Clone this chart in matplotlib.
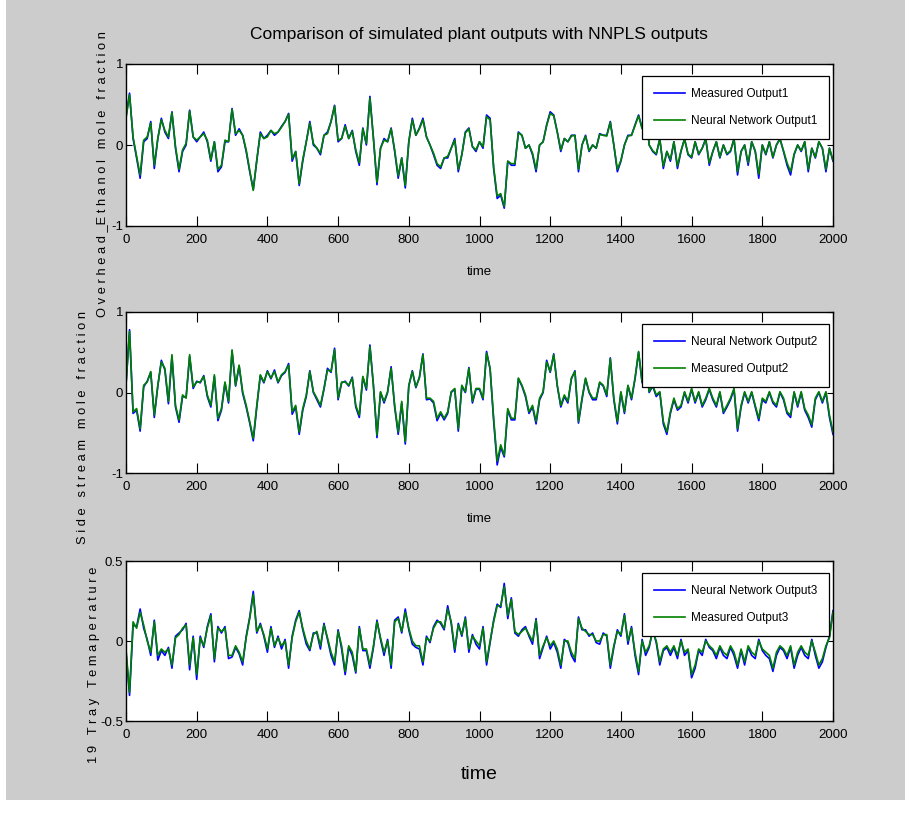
import matplotlib
matplotlib.use("Agg")
import matplotlib.pyplot as plt
import numpy as np
from matplotlib.patches import Rectangle

plt.rcParams['font.family'] = ['Liberation Sans Narrow', 'Liberation Sans', 'DejaVu Sans']

# ---------------- data (sampled every 10 time units) ----------------
time = np.arange(0, 2001, 10)
x_ticks = [0, 200, 400, 600, 800, 1000, 1200, 1400, 1600, 1800, 2000]

measured1 = [
    0.35, 0.64, 0.08, -0.16, -0.41, 0.04, 0.08, 0.29, -0.29, 0.08,
    0.33, 0.16, 0.08, 0.41, -0.04, -0.33, -0.08, 0.00, 0.43, 0.10,
    0.04, 0.10, 0.16, 0.04, -0.20, 0.04, -0.33, -0.27, 0.04, 0.04,
    0.45, 0.12, 0.20, 0.12, -0.08, -0.33, -0.55, -0.20, 0.16, 0.08,
    0.12, 0.18, 0.12, 0.16, 0.23, 0.29, 0.39, -0.20, -0.08, -0.50,
    -0.20, 0.04, 0.29, 0.00, -0.04, -0.12, 0.12, 0.16, 0.29, 0.49,
    0.04, 0.08, 0.25, 0.08, 0.18, -0.08, -0.25, 0.21, 0.00, 0.60,
    0.08, -0.49, -0.04, 0.08, 0.04, 0.21, -0.08, -0.41, -0.16, -0.53,
    0.04, 0.33, 0.12, 0.21, 0.33, 0.10, 0.00, -0.12, -0.25, -0.29,
    -0.16, -0.16, -0.04, 0.08, -0.33, -0.12, 0.16, 0.21, -0.02, -0.08,
    0.04, -0.04, 0.37, 0.33, -0.29, -0.66, -0.62, -0.78, -0.20, -0.25,
    -0.25, 0.16, 0.12, -0.04, 0.00, -0.12, -0.33, 0.00, 0.04, 0.25,
    0.41, 0.37, 0.16, -0.08, 0.08, 0.04, 0.12, 0.12, -0.33, 0.00,
    0.12, -0.08, 0.00, -0.04, 0.14, 0.12, 0.12, 0.29, 0.00, -0.33,
    -0.20, 0.00, 0.12, 0.12, 0.25, 0.37, 0.21, 0.47, 0.00, -0.08,
    -0.12, 0.08, -0.29, -0.08, -0.20, 0.04, -0.29, -0.08, 0.08, -0.12,
    -0.16, 0.04, -0.12, -0.04, 0.08, -0.25, -0.08, 0.04, -0.16, 0.00,
    -0.12, -0.08, 0.08, -0.37, -0.08, 0.00, -0.25, 0.04, -0.08, -0.41,
    0.00, -0.12, 0.04, -0.16, 0.00, 0.08, -0.08, -0.25, -0.37, -0.12,
    0.00, -0.08, 0.04, -0.33, -0.04, -0.16, 0.04, -0.04, -0.33, -0.04,
    -0.20]

network1 = [
    0.33, 0.62, 0.10, -0.14, -0.37, 0.06, 0.10, 0.27, -0.25, 0.08,
    0.31, 0.18, 0.10, 0.40, -0.02, -0.30, -0.06, 0.02, 0.42, 0.10,
    0.06, 0.10, 0.14, 0.06, -0.18, 0.04, -0.30, -0.25, 0.06, 0.04,
    0.44, 0.14, 0.18, 0.12, -0.06, -0.31, -0.56, -0.18, 0.14, 0.08,
    0.10, 0.18, 0.14, 0.16, 0.22, 0.29, 0.38, -0.17, -0.08, -0.48,
    -0.18, 0.04, 0.27, 0.02, -0.04, -0.10, 0.12, 0.14, 0.29, 0.48,
    0.06, 0.08, 0.23, 0.08, 0.17, -0.06, -0.22, 0.20, 0.02, 0.58,
    0.08, -0.46, -0.04, 0.06, 0.04, 0.20, -0.06, -0.38, -0.16, -0.50,
    0.04, 0.31, 0.12, 0.20, 0.31, 0.10, 0.00, -0.10, -0.23, -0.27,
    -0.16, -0.14, -0.04, 0.06, -0.30, -0.12, 0.15, 0.20, -0.02, -0.06,
    0.04, -0.02, 0.35, 0.31, -0.27, -0.63, -0.60, -0.76, -0.20, -0.23,
    -0.23, 0.15, 0.12, -0.04, 0.00, -0.10, -0.30, 0.00, 0.04, 0.24,
    0.39, 0.36, 0.16, -0.06, 0.08, 0.04, 0.11, 0.12, -0.30, 0.00,
    0.11, -0.07, 0.00, -0.04, 0.13, 0.12, 0.11, 0.28, 0.00, -0.30,
    -0.19, 0.00, 0.11, 0.12, 0.24, 0.36, 0.20, 0.46, 0.00, -0.07,
    -0.11, 0.07, -0.26, -0.08, -0.18, 0.04, -0.26, -0.07, 0.07, -0.11,
    -0.15, 0.04, -0.11, -0.04, 0.07, -0.22, -0.08, 0.04, -0.15, 0.00,
    -0.11, -0.07, 0.07, -0.33, -0.08, 0.00, -0.22, 0.04, -0.07, -0.36,
    0.00, -0.11, 0.04, -0.15, 0.00, 0.07, -0.07, -0.22, -0.33, -0.11,
    0.00, -0.07, 0.04, -0.30, -0.04, -0.15, 0.04, -0.04, -0.30, -0.04,
    -0.19]

measured2 = [
    0.09, 0.76, -0.24, -0.20, -0.45, 0.09, 0.13, 0.26, -0.28, 0.09,
    0.38, 0.30, -0.11, 0.47, -0.16, -0.34, -0.03, -0.07, 0.47, 0.07,
    0.13, 0.13, 0.20, -0.03, -0.16, 0.22, -0.32, -0.20, 0.13, -0.11,
    0.53, 0.09, 0.34, 0.01, -0.16, -0.36, -0.57, -0.16, 0.22, 0.13,
    0.26, 0.18, 0.26, 0.13, 0.22, 0.26, 0.34, -0.24, -0.16, -0.49,
    -0.20, -0.03, 0.26, 0.01, -0.07, -0.16, 0.05, 0.28, 0.26, 0.53,
    -0.07, 0.13, 0.13, 0.09, 0.18, -0.16, -0.28, 0.20, 0.05, 0.57,
    0.09, -0.53, 0.01, -0.11, 0.01, 0.30, -0.16, -0.49, -0.11, -0.61,
    0.09, 0.26, 0.07, 0.18, 0.47, -0.07, -0.07, -0.11, -0.32, -0.24,
    -0.32, -0.24, 0.01, 0.05, -0.45, 0.09, 0.01, 0.30, -0.11, 0.05,
    0.05, -0.07, 0.49, 0.30, -0.32, -0.85, -0.65, -0.78, -0.20, -0.32,
    -0.32, 0.18, 0.09, -0.03, -0.24, -0.16, -0.36, -0.07, 0.01, 0.38,
    0.26, 0.47, 0.09, -0.16, -0.03, -0.11, 0.18, 0.26, -0.36, -0.07,
    0.18, 0.01, -0.07, -0.07, 0.13, 0.09, -0.03, 0.42, -0.07, -0.36,
    0.01, -0.24, 0.09, -0.07, 0.18, 0.51, 0.13, 0.42, 0.01, 0.09,
    -0.03, 0.01, -0.36, -0.49, -0.24, -0.07, -0.20, -0.16, 0.01, -0.11,
    0.05, -0.11, 0.01, -0.16, -0.07, 0.05, -0.07, -0.16, 0.01, -0.24,
    -0.16, -0.07, 0.05, -0.45, -0.16, 0.01, -0.11, 0.01, -0.16, -0.32,
    -0.07, -0.11, 0.01, -0.11, -0.16, 0.01, -0.07, -0.24, -0.28, 0.01,
    -0.16, 0.01, -0.20, -0.28, -0.40, -0.07, 0.01, -0.11, 0.01, -0.28,
    -0.49]

network2 = [
    0.10, 0.78, -0.26, -0.22, -0.48, 0.07, 0.14, 0.25, -0.31, 0.08,
    0.40, 0.28, -0.14, 0.45, -0.18, -0.37, -0.05, -0.06, 0.45, 0.05,
    0.14, 0.12, 0.21, -0.05, -0.18, 0.20, -0.35, -0.22, 0.12, -0.13,
    0.51, 0.08, 0.33, -0.01, -0.18, -0.38, -0.60, -0.18, 0.21, 0.12,
    0.27, 0.17, 0.28, 0.12, 0.21, 0.25, 0.36, -0.27, -0.18, -0.52,
    -0.22, -0.05, 0.27, 0.00, -0.09, -0.18, 0.04, 0.30, 0.25, 0.55,
    -0.09, 0.12, 0.14, 0.08, 0.19, -0.18, -0.31, 0.19, 0.03, 0.59,
    0.08, -0.56, 0.00, -0.13, 0.00, 0.32, -0.18, -0.52, -0.13, -0.64,
    0.08, 0.27, 0.06, 0.19, 0.48, -0.09, -0.08, -0.13, -0.35, -0.26,
    -0.34, -0.26, 0.00, 0.04, -0.48, 0.08, 0.00, 0.31, -0.13, 0.04,
    0.04, -0.09, 0.51, 0.29, -0.35, -0.90, -0.68, -0.80, -0.22, -0.34,
    -0.34, 0.17, 0.08, -0.05, -0.26, -0.18, -0.39, -0.09, 0.00, 0.40,
    0.25, 0.48, 0.08, -0.18, -0.05, -0.13, 0.17, 0.27, -0.38, -0.09,
    0.17, 0.00, -0.09, -0.09, 0.12, 0.08, -0.05, 0.43, -0.09, -0.39,
    0.00, -0.26, 0.08, -0.09, 0.17, 0.50, 0.12, 0.43, 0.00, 0.08,
    -0.05, 0.00, -0.39, -0.52, -0.26, -0.09, -0.22, -0.18, 0.00, -0.13,
    0.04, -0.13, 0.00, -0.18, -0.09, 0.04, -0.09, -0.18, 0.00, -0.26,
    -0.18, -0.09, 0.04, -0.48, -0.18, 0.00, -0.13, 0.00, -0.18, -0.35,
    -0.09, -0.13, 0.00, -0.13, -0.18, 0.00, -0.09, -0.26, -0.31, 0.00,
    -0.18, 0.00, -0.22, -0.31, -0.43, -0.09, 0.00, -0.13, 0.00, -0.31,
    -0.52]

measured3 = [
    -0.05, -0.32, 0.12, 0.08, 0.18, 0.10, 0.00, -0.07, 0.12, -0.09,
    -0.05, -0.07, -0.05, -0.15, 0.02, 0.04, 0.08, 0.10, -0.15, 0.02,
    -0.21, 0.02, -0.03, 0.08, 0.16, -0.11, 0.08, 0.06, 0.08, -0.09,
    -0.09, -0.03, -0.07, -0.13, 0.02, 0.14, 0.29, 0.06, 0.10, 0.04,
    -0.05, 0.08, -0.03, 0.02, -0.03, 0.00, -0.15, 0.02, 0.12, 0.18,
    0.08, 0.00, -0.05, 0.04, 0.06, -0.03, 0.10, 0.02, -0.07, -0.13,
    0.06, -0.03, -0.19, -0.03, -0.07, -0.19, 0.08, -0.05, -0.05, -0.15,
    -0.03, 0.12, 0.02, -0.07, 0.00, -0.15, 0.12, 0.14, 0.06, 0.18,
    0.08, 0.00, -0.03, -0.03, -0.13, 0.02, 0.00, 0.08, 0.12, 0.12,
    0.08, 0.20, 0.12, -0.05, 0.10, 0.04, 0.14, -0.05, 0.03, 0.00,
    -0.03, 0.08, -0.13, 0.00, 0.12, 0.22, 0.22, 0.34, 0.16, 0.26,
    0.06, 0.04, 0.06, 0.08, 0.04, 0.00, 0.13, -0.09, -0.03, 0.02,
    -0.03, 0.00, -0.05, -0.15, 0.00, 0.00, -0.07, -0.11, 0.14, 0.08,
    0.06, 0.04, 0.04, 0.00, 0.00, 0.04, 0.04, -0.15, -0.03, 0.06,
    0.04, 0.16, 0.00, 0.08, -0.07, -0.19, 0.00, -0.07, -0.03, 0.06,
    0.00, -0.13, -0.05, -0.03, -0.07, -0.03, -0.09, 0.00, -0.07, -0.05,
    -0.21, -0.15, -0.05, -0.07, 0.00, -0.03, -0.05, -0.09, -0.03, -0.07,
    -0.09, -0.03, -0.07, -0.15, -0.05, -0.13, -0.03, -0.07, -0.09, 0.00,
    -0.05, -0.07, -0.09, -0.17, -0.07, -0.03, -0.05, -0.09, -0.03, -0.15,
    -0.07, -0.03, -0.07, -0.09, 0.00, -0.07, -0.15, -0.11, -0.03, 0.02,
    0.18]

network3 = [
    -0.07, -0.34, 0.10, 0.09, 0.20, 0.08, 0.01, -0.09, 0.13, -0.12,
    -0.06, -0.09, -0.04, -0.17, 0.03, 0.05, 0.07, 0.11, -0.18, 0.03,
    -0.24, 0.03, -0.04, 0.09, 0.17, -0.13, 0.09, 0.05, 0.09, -0.11,
    -0.10, -0.04, -0.08, -0.15, 0.03, 0.15, 0.31, 0.05, 0.11, 0.03,
    -0.07, 0.09, -0.04, 0.03, -0.05, 0.01, -0.17, 0.03, 0.13, 0.19,
    0.07, -0.02, -0.06, 0.05, 0.05, -0.05, 0.11, 0.01, -0.09, -0.15,
    0.07, -0.05, -0.21, -0.04, -0.09, -0.20, 0.09, -0.06, -0.06, -0.17,
    -0.04, 0.13, 0.01, -0.09, 0.01, -0.17, 0.13, 0.15, 0.05, 0.20,
    0.07, -0.02, -0.04, -0.05, -0.15, 0.03, -0.01, 0.09, 0.13, 0.11,
    0.07, 0.22, 0.11, -0.07, 0.11, 0.03, 0.15, -0.07, 0.04, -0.02,
    -0.05, 0.09, -0.15, -0.01, 0.13, 0.23, 0.21, 0.36, 0.14, 0.27,
    0.05, 0.03, 0.07, 0.09, 0.03, -0.02, 0.14, -0.11, -0.04, 0.03,
    -0.05, -0.01, -0.07, -0.17, 0.01, -0.01, -0.09, -0.13, 0.15, 0.07,
    0.07, 0.03, 0.05, -0.01, -0.02, 0.05, 0.03, -0.17, -0.04, 0.07,
    0.03, 0.17, -0.02, 0.09, -0.09, -0.21, 0.01, -0.09, -0.04, 0.07,
    -0.01, -0.15, -0.06, -0.04, -0.09, -0.04, -0.11, 0.01, -0.09, -0.06,
    -0.23, -0.17, -0.06, -0.09, 0.01, -0.04, -0.06, -0.11, -0.04, -0.09,
    -0.11, -0.04, -0.09, -0.17, -0.06, -0.15, -0.04, -0.09, -0.11, 0.01,
    -0.06, -0.09, -0.11, -0.19, -0.09, -0.04, -0.06, -0.11, -0.04, -0.17,
    -0.09, -0.04, -0.09, -0.11, 0.01, -0.09, -0.17, -0.13, -0.04, 0.03,
    0.19]

title_text = "Comparison of simulated plant outputs with NNPLS outputs"
ylabels = ["O v e r h e a d _E t h a n o l   m o l e   f r a c t i o n",
           "S i d e   s t r e a m   m o l e   f r a c t i o n",
           "1 9   T r a y   T e m a p e r a t u r e"]
legend_labels = [["Measured Output1", "Neural Network Output1"],
                 ["Neural Network Output2", "Measured Output2"],
                 ["Neural Network Output3", "Measured Output3"]]
y_ticks = [[-1, 0, 1], [-1, 0, 1], [-0.5, 0, 0.5]]
y_ticklabels = [["-1", "0", "1"], ["-1", "0", "1"], ["-0.5", "0", "0.5"]]

# ---------------- figure ----------------
W, H = 913, 827
fig = plt.figure(figsize=(W / 100, H / 100), dpi=100, facecolor='white')
fig.patches.append(Rectangle((6 / W, 27 / H), 899 / W, 1 - 27 / H,
                             transform=fig.transFigure, facecolor='#cccccc',
                             edgecolor='none', zorder=-10))

left = 126 / W
width = 707 / W
boxes = [(64, 226), (312, 473), (561, 721)]
series = [(measured1, network1), (network2, measured2), (network3, measured3)]

for i, ((top, bot), (s_blue, s_green)) in enumerate(zip(boxes, series)):
    ax = fig.add_axes([left, 1 - bot / H, width, (bot - top) / H])
    ax.set_facecolor('white')
    l1, = ax.plot(time, s_blue, color='#0000ff', lw=1.2)
    l2, = ax.plot(time, s_green, color='#008000', lw=1.2)
    ax.set_xlim(0, 2000)
    ax.set_ylim(y_ticks[i][0], y_ticks[i][-1])
    ax.set_xticks(x_ticks)
    ax.set_xticklabels([str(v) for v in x_ticks])
    ax.set_yticks(y_ticks[i])
    ax.set_yticklabels(y_ticklabels[i])
    ax.tick_params(axis='both', direction='in', top=True, right=True,
                   labelsize=9.5, width=0.8, colors='black')
    ax.tick_params(axis='x', length=7, pad=6)
    ax.tick_params(axis='y', length=4, pad=2)
    for sp in ax.spines.values():
        sp.set_linewidth(1.0)
        sp.set_color('black')
    if i < 2:
        ax.set_xlabel('time', fontsize=9.5, labelpad=14)
    else:
        ax.set_xlabel('time', fontsize=14, labelpad=18)
    leg = ax.legend([l1, l2], legend_labels[i], loc='upper right',
                    bbox_to_anchor=(0.994, 0.926), borderaxespad=0,
                    fancybox=False, edgecolor='black', framealpha=1,
                    fontsize=8.5, handlelength=2.6, handletextpad=0.5,
                    labelspacing=1.3, borderpad=1.0)
    leg.get_frame().set_linewidth(0.9)

fig.text(479 / W, 1 - 35 / H, title_text, ha='center', va='center', fontsize=12.5)
fig.text(102 / W, 1 - 174 / H, ylabels[0], rotation=90, ha='center', va='center', fontsize=9.3)
fig.text(83 / W, 1 - 427 / H, ylabels[1], rotation=90, ha='center', va='center', fontsize=9.3)
fig.text(94 / W, 1 - 665 / H, ylabels[2], rotation=90, ha='center', va='center', fontsize=9.3)

fig.savefig('out.png', dpi=100, facecolor=fig.get_facecolor())
